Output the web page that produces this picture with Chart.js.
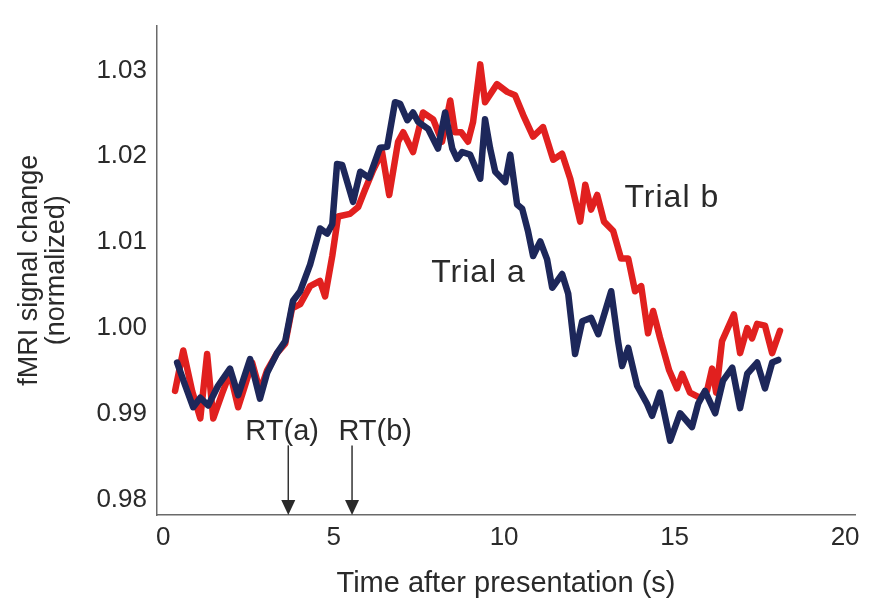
<!DOCTYPE html>
<html>
<head>
<meta charset="utf-8">
<title>fMRI signal change</title>
<script src="https://cdn.jsdelivr.net/npm/chart.js@4.4.0/dist/chart.umd.min.js"></script>
<style>
  html, body { margin: 0; padding: 0; background: #ffffff; }
  #wrap { width: 883px; height: 608px; position: relative; }
</style>
</head>
<body>
<div id="wrap"><canvas id="c"></canvas></div>
<script>
// Trial a: time (s) and normalized signal
const timeA = [0.41,0.65,0.88,1.09,1.32,1.61,1.96,2.20,2.55,2.84,3.05,3.34,3.58,3.81,4.02,4.31,4.60,4.81,4.96,5.10,5.25,5.57,5.78,6.04,6.36,6.57,6.80,6.95,7.16,7.33,7.48,7.77,8.06,8.27,8.48,8.62,8.77,9.00,9.30,9.44,9.59,9.74,10.03,10.18,10.38,10.53,10.70,10.85,11.06,11.26,11.41,11.70,11.88,12.08,12.29,12.55,12.76,13.14,13.34,13.46,13.64,13.90,14.19,14.34,14.57,14.87,15.16,15.51,15.69,15.89,16.19,16.42,16.69,16.92,17.13,17.42,17.65,17.86,18.04];
const trialA = [0.9960,0.9933,0.9908,0.9919,0.9910,0.9933,0.9953,0.9922,0.9964,0.9918,0.9948,0.9971,0.9985,1.0032,1.0043,1.0074,1.0116,1.0110,1.0121,1.0191,1.0190,1.0147,1.0182,1.0175,1.0210,1.0211,1.0263,1.0261,1.0242,1.0251,1.0240,1.0232,1.0209,1.0251,1.0209,1.0197,1.0205,1.0202,1.0174,1.0243,1.0209,1.0182,1.0170,1.0202,1.0144,1.0139,1.0113,1.0084,1.0101,1.0080,1.0047,1.0063,1.0040,0.9970,1.0008,1.0012,0.9993,1.0043,0.9985,0.9956,0.9977,0.9933,0.9912,0.9898,0.9925,0.9869,0.9901,0.9885,0.9912,0.9927,0.9901,0.9939,0.9954,0.9907,0.9947,0.9960,0.9930,0.9960,0.9963];

// Trial b: time (s) and normalized signal
const timeB = [0.35,0.59,0.85,1.09,1.29,1.47,1.73,1.96,2.20,2.40,2.61,2.84,3.05,3.34,3.58,3.78,4.02,4.31,4.60,4.75,4.96,5.13,5.48,5.72,5.92,6.16,6.42,6.63,6.89,7.04,7.33,7.62,7.92,8.18,8.42,8.56,8.74,8.94,9.09,9.30,9.44,9.79,10.09,10.32,10.56,10.85,11.14,11.44,11.70,11.94,12.23,12.38,12.55,12.73,12.93,13.20,13.43,13.64,13.84,14.02,14.22,14.37,14.57,14.84,15.07,15.22,15.45,15.75,15.95,16.10,16.22,16.39,16.74,16.92,17.13,17.27,17.42,17.65,17.86,18.09];
const trialB = [0.9927,0.9974,0.9927,0.9895,0.9970,0.9895,0.9924,0.9948,0.9908,0.9933,0.9960,0.9927,0.9951,0.9971,0.9982,1.0023,1.0028,1.0049,1.0055,1.0037,1.0084,1.0130,1.0133,1.0141,1.0161,1.0184,1.0205,1.0155,1.0217,1.0228,1.0205,1.0251,1.0243,1.0217,1.0265,1.0228,1.0228,1.0217,1.0240,1.0307,1.0263,1.0284,1.0275,1.0271,1.0248,1.0223,1.0234,1.0196,1.0203,1.0174,1.0124,1.0167,1.0138,1.0155,1.0124,1.0113,1.0081,1.0081,1.0043,1.0049,0.9994,1.0020,0.9989,0.9951,0.9930,0.9947,0.9925,0.9919,0.9927,0.9953,0.9925,0.9985,1.0016,0.9971,1.0000,0.9988,1.0005,1.0003,0.9971,0.9997];

// Reaction times (s) for each trial
const rtTimes = [3.67, 5.54];
const rtNames = ['RT(a)', 'RT(b)'];
const seriesNames = ['Trial a', 'Trial b'];

// Axis tick values
const xTickValues = [0, 5, 10, 15, 20];
const yTickValues = [0.98, 0.99, 1.00, 1.01, 1.02, 1.03];

const FONT = '"Liberation Sans", Arial, Helvetica, sans-serif';
const INK = '#2a2a2a';
const NAVY = '#1d275a';
const RED = '#e1201f';

const pairs = (xs, ys) => xs.map((t, i) => ({ x: t, y: ys[i] }));

// Text labels and reaction-time arrows placed in data coordinates
const notes = {
  series: [
    { text: seriesNames[0], x: 7.86, y: 1.0064 },
    { text: seriesNames[1], x: 13.53, y: 1.0151 }
  ],
  rtLabelX: [3.49, 6.22],
  rtLabelY: 0.98787,
  arrowTop: 0.98636
};

const annotate = {
  id: 'annotate',
  afterDraw(chart) {
    const { ctx, scales: { x, y } } = chart;
    ctx.save();
    ctx.fillStyle = INK;
    ctx.strokeStyle = '#333333';
    ctx.textBaseline = 'middle';

    ctx.font = '32px ' + FONT;
    ctx.textAlign = 'left';
    if ('letterSpacing' in ctx) ctx.letterSpacing = '1px';
    notes.series.forEach(n => {
      ctx.fillText(n.text, x.getPixelForValue(n.x), y.getPixelForValue(n.y));
    });
    if ('letterSpacing' in ctx) ctx.letterSpacing = '0px';

    ctx.font = '29px ' + FONT;
    ctx.textAlign = 'center';
    rtTimes.forEach((t, i) => {
      const px = x.getPixelForValue(t);
      const top = y.getPixelForValue(notes.arrowTop);
      const tip = y.getPixelForValue(y.min);
      ctx.lineWidth = 1.5;
      ctx.beginPath();
      ctx.moveTo(px, top);
      ctx.lineTo(px, tip - 12);
      ctx.stroke();
      ctx.beginPath();
      ctx.moveTo(px - 7, tip - 15);
      ctx.lineTo(px + 7, tip - 15);
      ctx.lineTo(px, tip);
      ctx.closePath();
      ctx.fill();
      ctx.fillText(rtNames[i], x.getPixelForValue(notes.rtLabelX[i]), y.getPixelForValue(notes.rtLabelY));
    });
    ctx.restore();
  }
};

new Chart(document.getElementById('c'), {
  type: 'line',
  data: {
    datasets: [
      { label: seriesNames[0], data: pairs(timeA, trialA), borderColor: NAVY, backgroundColor: NAVY },
      { label: seriesNames[1], data: pairs(timeB, trialB), borderColor: RED, backgroundColor: RED }
    ]
  },
  options: {
    responsive: true,
    maintainAspectRatio: false,
    animation: false,
    parsing: false,
    layout: { padding: { top: 23, right: 28, bottom: 0, left: 0 } },
    elements: {
      line: { borderWidth: 6.5, tension: 0, borderJoinStyle: 'round', borderCapStyle: 'round' },
      point: { radius: 0, hoverRadius: 0 }
    },
    plugins: {
      legend: { display: false },
      tooltip: { enabled: false }
    },
    scales: {
      x: {
        type: 'linear',
        min: -0.18,
        max: 20.29,
        afterBuildTicks: s => { s.ticks = xTickValues.map(v => ({ value: v })); },
        afterFit: s => { s.height = 93; },
        grid: { display: false, drawTicks: false },
        border: { display: true, color: '#6a6a6a', width: 1.5 },
        ticks: {
          font: { family: FONT, size: 26 },
          color: INK,
          padding: 7,
          maxRotation: 0,
          autoSkip: false,
          callback: v => String(v)
        },
        title: {
          display: true,
          text: 'Time after presentation (s)',
          font: { family: FONT, size: 29 },
          color: INK,
          padding: { top: 4, bottom: 7 }
        }
      },
      y: {
        type: 'linear',
        min: 0.97826,
        max: 1.03521,
        afterBuildTicks: s => { s.ticks = yTickValues.map(v => ({ value: v })); },
        afterFit: s => { s.width = 157; },
        grid: { display: false, drawTicks: false },
        border: { display: true, color: '#6a6a6a', width: 1.5 },
        ticks: {
          font: { family: FONT, size: 26 },
          color: INK,
          padding: 10,
          callback: v => Number(v).toFixed(2)
        },
        title: {
          display: true,
          text: ['fMRI signal change', '(normalized)'],
          font: { family: FONT, size: 27, lineHeight: 1.0 },
          color: INK,
          padding: { top: 16, bottom: 0 }
        }
      }
    }
  },
  plugins: [annotate]
});
</script>
</body>
</html>
